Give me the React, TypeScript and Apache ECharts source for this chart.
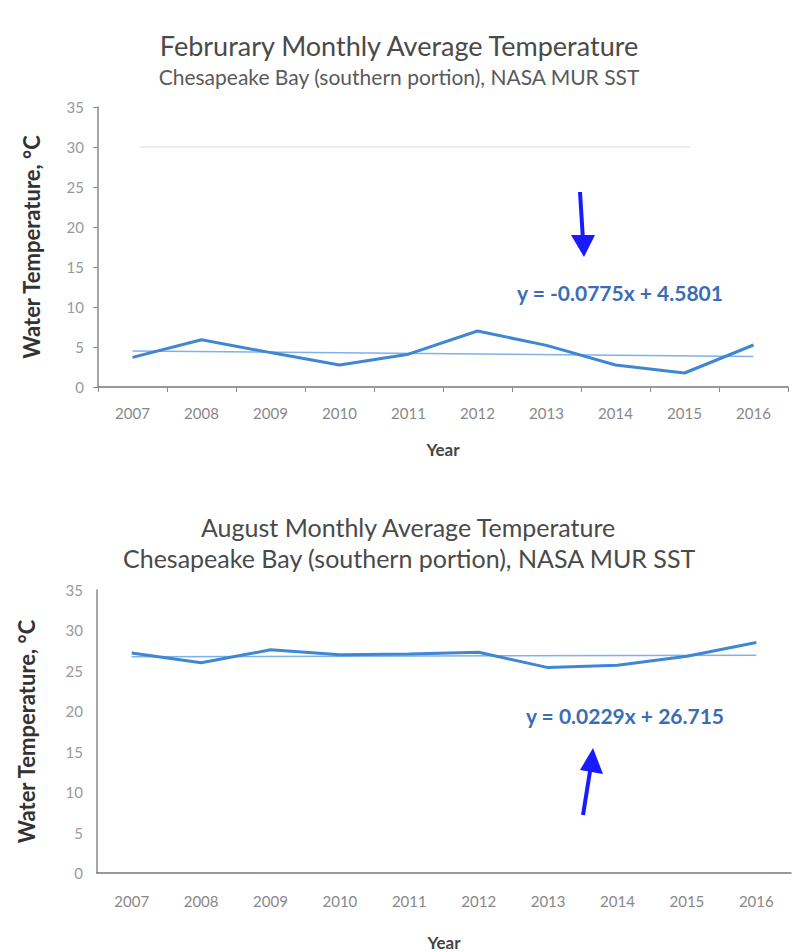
import React, { useEffect, useRef } from "react";
import * as echarts from "echarts";

const years = ["2007", "2008", "2009", "2010", "2011", "2012", "2013", "2014", "2015", "2016"];
const febTemps = [3.7, 5.9, 4.3, 2.75, 4.1, 7.0, 5.2, 2.75, 1.75, 5.25];
const augTemps = [27.2, 26.0, 27.6, 27.0, 27.1, 27.3, 25.4, 25.7, 26.8, 28.5];
const febTrend = [4.50, 3.81];
const augTrend = [26.74, 26.94];
const yTicks = [0, 5, 10, 15, 20, 25, 30, 35];
const febEquation = "y = -0.0775x + 4.5801";
const augEquation = "y = 0.0229x + 26.715";

const FONT = "Lato, 'Open Sans', sans-serif";
const LINE = "#3f87d4";
const TREND = "#7fb2e5";

export default function App() {
  const ref = useRef<HTMLDivElement>(null);
  useEffect(() => {
    if (!ref.current) return;
    const chart = echarts.init(ref.current, null, { renderer: "svg" });
    const yAxisBase = (gridIndex: number, gap: number, showTick: boolean) => ({
      type: "value",
      gridIndex,
      min: yTicks[0],
      max: yTicks[yTicks.length - 1],
      interval: 5,
      name: "Water Temperature, °C",
      nameLocation: "middle",
      nameRotate: 90,
      nameGap: gap,
      nameTextStyle: { fontFamily: FONT, fontSize: 22, fontWeight: "bold", color: "#333" },
      axisLine: { show: true, lineStyle: { color: "#8a8a8a", width: 1.5 } },
      axisTick: { show: showTick, length: 5, lineStyle: { color: "#8a8a8a" } },
      splitLine: { show: false },
      axisLabel: { fontFamily: FONT, fontSize: 15, color: "#999", margin: 14 },
    });
    const xAxisBase = (gridIndex: number, gap: number, margin: number, showTick: boolean) => ({
      type: "category",
      gridIndex,
      data: years,
      boundaryGap: true,
      name: "Year",
      nameLocation: "middle",
      nameGap: gap,
      nameTextStyle: { fontFamily: FONT, fontSize: 17, fontWeight: "bold", color: "#444" },
      axisLine: { show: true, lineStyle: { color: "#777", width: 1.5 } },
      axisTick: { show: showTick, length: 5, lineStyle: { color: "#8a8a8a" } },
      axisLabel: { fontFamily: FONT, fontSize: 15, color: "#888", margin },
    });
    chart.setOption({
      animation: false,
      backgroundColor: "#fff",
      title: [
        { text: "Februrary Monthly Average Temperature", left: "center", top: 27, textStyle: { fontFamily: FONT, fontSize: 27, fontWeight: "normal", color: "#4a4a4a" } },
        { text: "Chesapeake Bay (southern portion), NASA MUR SST", left: "center", top: 61, textStyle: { fontFamily: FONT, fontSize: 21, fontWeight: "normal", color: "#5a5a5a" } },
        { text: "August Monthly Average Temperature", left: 196, top: 509, textStyle: { fontFamily: FONT, fontSize: 25, fontWeight: "normal", color: "#4a4a4a" } },
        { text: "Chesapeake Bay (southern portion), NASA MUR SST", left: 118, top: 540, textStyle: { fontFamily: FONT, fontSize: 25, fontWeight: "normal", color: "#4a4a4a" } },
      ],
      grid: [
        { left: 98, top: 107, width: 690, height: 280, outerBoundsMode: "none", containLabel: false },
        { left: 97, top: 590, width: 694, height: 283, outerBoundsMode: "none", containLabel: false },
      ],
      xAxis: [xAxisBase(0, 54, 18, true), xAxisBase(1, 61, 20, false)],
      yAxis: [yAxisBase(0, 56, true), yAxisBase(1, 60, false)],
      series: [
        {
          type: "line",
          xAxisIndex: 0,
          yAxisIndex: 0,
          data: [[years[0], febTrend[0]], [years[years.length - 1], febTrend[1]]],
          symbol: "none",
          lineStyle: { color: TREND, width: 1.5 },
          z: 1,
        },
        {
          type: "line",
          xAxisIndex: 0,
          yAxisIndex: 0,
          data: febTemps,
          symbol: "none",
          lineStyle: { color: LINE, width: 3 },
          z: 2,
        },
        {
          type: "line",
          xAxisIndex: 1,
          yAxisIndex: 1,
          data: [[years[0], augTrend[0]], [years[years.length - 1], augTrend[1]]],
          symbol: "none",
          lineStyle: { color: TREND, width: 1.5 },
          z: 1,
        },
        {
          type: "line",
          xAxisIndex: 1,
          yAxisIndex: 1,
          data: augTemps,
          symbol: "none",
          lineStyle: { color: LINE, width: 3 },
          z: 2,
        },
      ],
      graphic: [
        { type: "line", shape: { x1: 140, y1: 147, x2: 690, y2: 147 }, style: { stroke: "#ececec", lineWidth: 2 } },
        { type: "text", x: 620, y: 292, style: { text: febEquation, fontFamily: FONT, fontSize: 21, fontWeight: "bold", fill: "#3a6db5", align: "center", verticalAlign: "middle" } },
        { type: "line", shape: { x1: 580, y1: 192, x2: 583, y2: 240 }, style: { stroke: "#1a1aff", lineWidth: 4 } },
        { type: "polygon", shape: { points: [[571, 235], [595, 235], [584, 257]] }, style: { fill: "#1a1aff" } },
        { type: "text", x: 625, y: 715, style: { text: augEquation, fontFamily: FONT, fontSize: 21, fontWeight: "bold", fill: "#3a6db5", align: "center", verticalAlign: "middle" } },
        { type: "line", shape: { x1: 583, y1: 815, x2: 591, y2: 765 }, style: { stroke: "#1a1aff", lineWidth: 4 } },
        { type: "polygon", shape: { points: [[580, 770], [603, 774], [593, 748]] }, style: { fill: "#1a1aff" } },
      ],
    });
    return () => chart.dispose();
  }, []);
  return <div ref={ref} style={{ position: "fixed", left: 0, top: 0, width: 798, height: 952 }} />;
}
